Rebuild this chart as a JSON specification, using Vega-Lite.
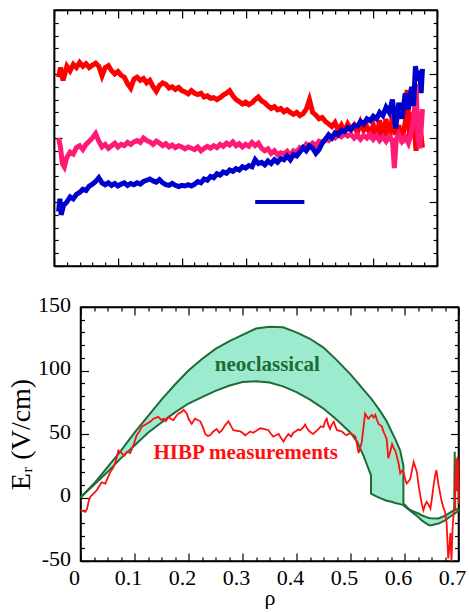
{
  "$schema": "https://vega.github.io/schema/vega-lite/v6.json",
  "padding": {"left": 6, "top": 8, "right": 0, "bottom": 0},
  "background": "white",
  "spacing": 24,
  "center": true,
  "config": {
    "view": {"stroke": "black", "strokeWidth": 1.5},
    "font": "Liberation Serif",
    "axis": {"domainColor": "black", "domainWidth": 1.5, "tickColor": "black", "tickWidth": 1.2, "grid": false, "labelColor": "black", "titleColor": "black", "labelFont": "Liberation Serif", "titleFont": "Liberation Serif", "titleFontWeight": "normal"}
  },
  "datasets": {
    "red": [
      {"x":0.07,"y":2.95},{"x":0.1,"y":3.1},{"x":0.14,"y":2.9},{"x":0.2,"y":3.12},{"x":0.25,"y":3.05},{"x":0.3,"y":3.15},{"x":0.35,"y":3.1},{"x":0.4,"y":3.18},{"x":0.45,"y":3.12},{"x":0.5,"y":3.16},{"x":0.55,"y":3.1},{"x":0.6,"y":3.14},{"x":0.65,"y":3.17},{"x":0.7,"y":3.12},{"x":0.75,"y":2.97},{"x":0.8,"y":3.1},{"x":0.85,"y":3.13},{"x":0.9,"y":3.05},{"x":0.95,"y":3.0},{"x":1.0,"y":3.04},{"x":1.05,"y":2.98},{"x":1.1,"y":2.95},{"x":1.15,"y":2.85},{"x":1.2,"y":2.78},{"x":1.25,"y":2.92},{"x":1.3,"y":2.95},{"x":1.35,"y":2.9},{"x":1.4,"y":2.93},{"x":1.45,"y":2.86},{"x":1.5,"y":2.9},{"x":1.55,"y":2.8},{"x":1.6,"y":2.73},{"x":1.65,"y":2.82},{"x":1.7,"y":2.86},{"x":1.75,"y":2.84},{"x":1.8,"y":2.78},{"x":1.85,"y":2.8},{"x":1.9,"y":2.76},{"x":1.95,"y":2.79},{"x":2.0,"y":2.74},{"x":2.05,"y":2.72},{"x":2.1,"y":2.69},{"x":2.15,"y":2.74},{"x":2.2,"y":2.7},{"x":2.25,"y":2.68},{"x":2.3,"y":2.7},{"x":2.35,"y":2.64},{"x":2.4,"y":2.66},{"x":2.45,"y":2.62},{"x":2.5,"y":2.63},{"x":2.55,"y":2.6},{"x":2.6,"y":2.63},{"x":2.65,"y":2.67},{"x":2.7,"y":2.7},{"x":2.75,"y":2.74},{"x":2.8,"y":2.66},{"x":2.85,"y":2.6},{"x":2.9,"y":2.57},{"x":2.95,"y":2.53},{"x":3.0,"y":2.56},{"x":3.05,"y":2.52},{"x":3.1,"y":2.55},{"x":3.15,"y":2.6},{"x":3.2,"y":2.64},{"x":3.25,"y":2.58},{"x":3.3,"y":2.55},{"x":3.35,"y":2.5},{"x":3.4,"y":2.46},{"x":3.45,"y":2.49},{"x":3.5,"y":2.44},{"x":3.55,"y":2.46},{"x":3.6,"y":2.41},{"x":3.65,"y":2.44},{"x":3.7,"y":2.4},{"x":3.75,"y":2.37},{"x":3.8,"y":2.4},{"x":3.85,"y":2.35},{"x":3.9,"y":2.38},{"x":3.95,"y":2.45},{"x":4.0,"y":2.6},{"x":4.05,"y":2.4},{"x":4.1,"y":2.36},{"x":4.15,"y":2.3},{"x":4.2,"y":2.32},{"x":4.25,"y":2.26},{"x":4.3,"y":2.22},{"x":4.35,"y":2.18},{"x":4.4,"y":2.24},{"x":4.45,"y":2.12},{"x":4.5,"y":2.2},{"x":4.55,"y":2.1},{"x":4.6,"y":2.22},{"x":4.65,"y":2.14},{"x":4.7,"y":2.2},{"x":4.75,"y":2.08},{"x":4.8,"y":2.24},{"x":4.85,"y":2.12},{"x":4.9,"y":2.18},{"x":4.95,"y":2.06},{"x":5.0,"y":2.2},{"x":5.05,"y":2.0},{"x":5.1,"y":2.28},{"x":5.15,"y":1.98},{"x":5.2,"y":2.3},{"x":5.25,"y":1.95},{"x":5.3,"y":2.35},{"x":5.35,"y":2.05},{"x":5.4,"y":2.2},{"x":5.45,"y":1.92},{"x":5.5,"y":2.25},{"x":5.53,"y":2.75},{"x":5.57,"y":2.0},{"x":5.62,"y":2.4},{"x":5.67,"y":1.8},{"x":5.72,"y":2.3},{"x":5.77,"y":1.85}
    ],
    "pink": [
      {"x":0.07,"y":2.0},{"x":0.1,"y":1.85},{"x":0.13,"y":1.6},{"x":0.16,"y":1.55},{"x":0.2,"y":1.7},{"x":0.25,"y":1.78},{"x":0.3,"y":1.75},{"x":0.35,"y":1.85},{"x":0.4,"y":1.88},{"x":0.45,"y":1.82},{"x":0.5,"y":1.9},{"x":0.55,"y":1.95},{"x":0.6,"y":2.0},{"x":0.65,"y":2.07},{"x":0.7,"y":1.95},{"x":0.75,"y":1.86},{"x":0.8,"y":1.9},{"x":0.85,"y":1.84},{"x":0.9,"y":1.88},{"x":0.95,"y":1.92},{"x":1.0,"y":1.86},{"x":1.05,"y":1.9},{"x":1.1,"y":1.88},{"x":1.15,"y":1.93},{"x":1.2,"y":1.9},{"x":1.25,"y":1.94},{"x":1.3,"y":1.96},{"x":1.35,"y":1.93},{"x":1.4,"y":2.0},{"x":1.45,"y":1.96},{"x":1.5,"y":1.94},{"x":1.55,"y":1.9},{"x":1.6,"y":1.95},{"x":1.65,"y":1.92},{"x":1.7,"y":1.88},{"x":1.75,"y":1.91},{"x":1.8,"y":1.86},{"x":1.85,"y":1.89},{"x":1.9,"y":1.85},{"x":1.95,"y":1.88},{"x":2.0,"y":1.86},{"x":2.05,"y":1.83},{"x":2.1,"y":1.86},{"x":2.15,"y":1.84},{"x":2.2,"y":1.82},{"x":2.25,"y":1.86},{"x":2.3,"y":1.8},{"x":2.35,"y":1.84},{"x":2.4,"y":1.87},{"x":2.45,"y":1.84},{"x":2.5,"y":1.88},{"x":2.55,"y":1.85},{"x":2.6,"y":1.9},{"x":2.65,"y":1.87},{"x":2.7,"y":1.92},{"x":2.75,"y":1.89},{"x":2.8,"y":1.94},{"x":2.85,"y":1.88},{"x":2.9,"y":1.91},{"x":2.95,"y":1.86},{"x":3.0,"y":1.9},{"x":3.05,"y":1.87},{"x":3.1,"y":1.93},{"x":3.15,"y":1.88},{"x":3.2,"y":1.92},{"x":3.25,"y":1.84},{"x":3.3,"y":1.8},{"x":3.35,"y":1.83},{"x":3.4,"y":1.76},{"x":3.45,"y":1.8},{"x":3.5,"y":1.74},{"x":3.55,"y":1.77},{"x":3.6,"y":1.75},{"x":3.65,"y":1.79},{"x":3.7,"y":1.72},{"x":3.75,"y":1.8},{"x":3.8,"y":1.78},{"x":3.85,"y":1.85},{"x":3.9,"y":1.83},{"x":3.95,"y":1.9},{"x":4.0,"y":1.86},{"x":4.05,"y":1.92},{"x":4.1,"y":1.88},{"x":4.15,"y":1.95},{"x":4.2,"y":1.93},{"x":4.25,"y":1.98},{"x":4.3,"y":1.96},{"x":4.35,"y":2.02},{"x":4.4,"y":2.0},{"x":4.45,"y":2.05},{"x":4.5,"y":2.02},{"x":4.55,"y":2.07},{"x":4.6,"y":2.03},{"x":4.65,"y":2.06},{"x":4.7,"y":2.0},{"x":4.75,"y":2.05},{"x":4.8,"y":1.98},{"x":4.85,"y":2.04},{"x":4.9,"y":2.0},{"x":4.95,"y":2.06},{"x":5.0,"y":1.98},{"x":5.05,"y":2.04},{"x":5.1,"y":1.96},{"x":5.15,"y":2.02},{"x":5.2,"y":1.95},{"x":5.25,"y":2.03},{"x":5.3,"y":1.96},{"x":5.33,"y":1.53},{"x":5.36,"y":1.98},{"x":5.4,"y":2.06},{"x":5.45,"y":1.95},{"x":5.5,"y":2.02},{"x":5.55,"y":1.92},{"x":5.6,"y":2.1},{"x":5.65,"y":2.5},{"x":5.67,"y":2.84},{"x":5.7,"y":2.0},{"x":5.73,"y":1.84},{"x":5.77,"y":2.45}
    ],
    "blue": [
      {"x":0.07,"y":0.85},{"x":0.09,"y":1.05},{"x":0.11,"y":0.8},{"x":0.15,"y":0.95},{"x":0.2,"y":1.0},{"x":0.25,"y":1.08},{"x":0.3,"y":1.05},{"x":0.35,"y":1.12},{"x":0.4,"y":1.15},{"x":0.45,"y":1.2},{"x":0.5,"y":1.18},{"x":0.55,"y":1.25},{"x":0.6,"y":1.28},{"x":0.65,"y":1.32},{"x":0.7,"y":1.38},{"x":0.75,"y":1.3},{"x":0.8,"y":1.27},{"x":0.85,"y":1.3},{"x":0.9,"y":1.26},{"x":0.95,"y":1.29},{"x":1.0,"y":1.25},{"x":1.05,"y":1.28},{"x":1.1,"y":1.3},{"x":1.15,"y":1.26},{"x":1.2,"y":1.29},{"x":1.25,"y":1.27},{"x":1.3,"y":1.3},{"x":1.35,"y":1.28},{"x":1.4,"y":1.32},{"x":1.45,"y":1.34},{"x":1.5,"y":1.36},{"x":1.55,"y":1.33},{"x":1.6,"y":1.31},{"x":1.65,"y":1.35},{"x":1.7,"y":1.3},{"x":1.75,"y":1.27},{"x":1.8,"y":1.26},{"x":1.85,"y":1.29},{"x":1.9,"y":1.26},{"x":1.95,"y":1.24},{"x":2.0,"y":1.26},{"x":2.05,"y":1.25},{"x":2.1,"y":1.27},{"x":2.15,"y":1.25},{"x":2.2,"y":1.28},{"x":2.25,"y":1.32},{"x":2.3,"y":1.3},{"x":2.35,"y":1.36},{"x":2.4,"y":1.34},{"x":2.45,"y":1.4},{"x":2.5,"y":1.38},{"x":2.55,"y":1.44},{"x":2.6,"y":1.42},{"x":2.65,"y":1.47},{"x":2.7,"y":1.45},{"x":2.75,"y":1.5},{"x":2.8,"y":1.48},{"x":2.85,"y":1.52},{"x":2.9,"y":1.5},{"x":2.95,"y":1.55},{"x":3.0,"y":1.53},{"x":3.05,"y":1.57},{"x":3.1,"y":1.55},{"x":3.15,"y":1.66},{"x":3.2,"y":1.6},{"x":3.25,"y":1.62},{"x":3.3,"y":1.58},{"x":3.35,"y":1.64},{"x":3.4,"y":1.6},{"x":3.45,"y":1.66},{"x":3.5,"y":1.62},{"x":3.55,"y":1.68},{"x":3.6,"y":1.66},{"x":3.65,"y":1.72},{"x":3.7,"y":1.66},{"x":3.75,"y":1.74},{"x":3.8,"y":1.72},{"x":3.85,"y":1.78},{"x":3.9,"y":1.85},{"x":3.95,"y":1.8},{"x":4.0,"y":1.88},{"x":4.05,"y":1.84},{"x":4.1,"y":1.76},{"x":4.15,"y":1.82},{"x":4.2,"y":1.92},{"x":4.25,"y":1.98},{"x":4.3,"y":2.05},{"x":4.35,"y":2.0},{"x":4.4,"y":2.08},{"x":4.45,"y":2.05},{"x":4.5,"y":2.12},{"x":4.55,"y":2.1},{"x":4.6,"y":2.16},{"x":4.65,"y":2.13},{"x":4.7,"y":2.2},{"x":4.75,"y":2.18},{"x":4.8,"y":2.26},{"x":4.85,"y":2.22},{"x":4.9,"y":2.3},{"x":4.95,"y":2.27},{"x":5.0,"y":2.34},{"x":5.05,"y":2.3},{"x":5.1,"y":2.4},{"x":5.15,"y":2.35},{"x":5.2,"y":2.48},{"x":5.25,"y":2.4},{"x":5.3,"y":2.6},{"x":5.35,"y":2.15},{"x":5.4,"y":2.55},{"x":5.45,"y":2.3},{"x":5.5,"y":2.7},{"x":5.55,"y":2.45},{"x":5.6,"y":2.8},{"x":5.63,"y":2.5},{"x":5.66,"y":3.12},{"x":5.7,"y":2.9},{"x":5.73,"y":3.05},{"x":5.75,"y":2.7},{"x":5.77,"y":3.08}
    ],
    "bar": [{"x":3.15,"x2":3.92,"y":1.0}],
    "band": [
      {"rho":0,"hi":0,"lo":0},{"rho":0.025,"hi":11,"lo":10},{"rho":0.05,"hi":24,"lo":20},{"rho":0.075,"hi":37,"lo":31},{"rho":0.1,"hi":51,"lo":41},{"rho":0.125,"hi":64,"lo":51},{"rho":0.15,"hi":77,"lo":59},{"rho":0.175,"hi":89,"lo":67},{"rho":0.2,"hi":100,"lo":74},{"rho":0.225,"hi":109,"lo":79},{"rho":0.25,"hi":117,"lo":84},{"rho":0.275,"hi":123,"lo":88},{"rho":0.3,"hi":128,"lo":91},{"rho":0.325,"hi":133,"lo":91.5},{"rho":0.35,"hi":134.5,"lo":90.5},{"rho":0.375,"hi":134,"lo":87.5},{"rho":0.4,"hi":130,"lo":83},{"rho":0.425,"hi":125,"lo":77},{"rho":0.45,"hi":118,"lo":70},{"rho":0.475,"hi":108,"lo":61},{"rho":0.5,"hi":97,"lo":51},{"rho":0.512,"hi":91,"lo":44},{"rho":0.524,"hi":85,"lo":33},{"rho":0.532,"hi":81,"lo":24},{"rho":0.538,"hi":78,"lo":17.5},{"rho":0.538,"hi":78,"lo":3},{"rho":0.545,"hi":74,"lo":1.5},{"rho":0.555,"hi":68,"lo":-0.5},{"rho":0.567,"hi":60,"lo":-2.5},{"rho":0.576,"hi":52,"lo":-3.4},{"rho":0.583,"hi":46,"lo":-4.3},{"rho":0.592,"hi":37,"lo":-5.2},{"rho":0.598,"hi":25,"lo":-6},{"rho":0.598,"hi":-4.7,"lo":-6},{"rho":0.607,"hi":-8.7,"lo":-9.3},{"rho":0.614,"hi":-10.5,"lo":-11.5},{"rho":0.626,"hi":-12.6,"lo":-15.5},{"rho":0.632,"hi":-14,"lo":-18},{"rho":0.644,"hi":-16,"lo":-21.5},{"rho":0.648,"hi":-16.3,"lo":-22},{"rho":0.663,"hi":-16.5,"lo":-20.5},{"rho":0.675,"hi":-14.4,"lo":-18},{"rho":0.688,"hi":-11,"lo":-14},{"rho":0.692,"hi":-10,"lo":-13},{"rho":0.693,"hi":36,"lo":-12.7},{"rho":0.694,"hi":-9.7,"lo":-12.4},{"rho":0.7,"hi":-9,"lo":-10.5}
    ],
    "hibp": [
      {"rho":0,"er":-10},{"rho":0.005,"er":-10.5},{"rho":0.009,"er":-11.3},{"rho":0.012,"er":-9},{"rho":0.015,"er":-3.4},{"rho":0.018,"er":0.5},{"rho":0.024,"er":3},{"rho":0.03,"er":5.7},{"rho":0.035,"er":9},{"rho":0.039,"er":12},{"rho":0.046,"er":11},{"rho":0.05,"er":15},{"rho":0.055,"er":20},{"rho":0.06,"er":23},{"rho":0.064,"er":27},{"rho":0.067,"er":31},{"rho":0.07,"er":37},{"rho":0.076,"er":35},{"rho":0.081,"er":33},{"rho":0.086,"er":36},{"rho":0.092,"er":35},{"rho":0.098,"er":41},{"rho":0.104,"er":49},{"rho":0.109,"er":52},{"rho":0.114,"er":56},{"rho":0.123,"er":58},{"rho":0.13,"er":60},{"rho":0.135,"er":62},{"rho":0.144,"er":63.5},{"rho":0.15,"er":61},{"rho":0.154,"er":62},{"rho":0.158,"er":60},{"rho":0.163,"er":63.5},{"rho":0.167,"er":62},{"rho":0.172,"er":61},{"rho":0.177,"er":64},{"rho":0.181,"er":66},{"rho":0.186,"er":67},{"rho":0.191,"er":69},{"rho":0.197,"er":66},{"rho":0.2,"er":62},{"rho":0.206,"er":58},{"rho":0.212,"er":62},{"rho":0.217,"er":61},{"rho":0.222,"er":60},{"rho":0.227,"er":55},{"rho":0.231,"er":50},{"rho":0.236,"er":48.5},{"rho":0.24,"er":49},{"rho":0.246,"er":52},{"rho":0.252,"er":54},{"rho":0.257,"er":51},{"rho":0.262,"er":53},{"rho":0.268,"er":57},{"rho":0.274,"er":60},{"rho":0.279,"er":56},{"rho":0.283,"er":53},{"rho":0.29,"er":52.5},{"rho":0.296,"er":52},{"rho":0.3,"er":51},{"rho":0.305,"er":49},{"rho":0.31,"er":50.5},{"rho":0.314,"er":52},{"rho":0.32,"er":51},{"rho":0.327,"er":53},{"rho":0.333,"er":54.5},{"rho":0.339,"er":54},{"rho":0.344,"er":53.5},{"rho":0.348,"er":53},{"rho":0.353,"er":50},{"rho":0.357,"er":48},{"rho":0.362,"er":49},{"rho":0.367,"er":50},{"rho":0.371,"er":47},{"rho":0.376,"er":44},{"rho":0.38,"er":47},{"rho":0.385,"er":50},{"rho":0.39,"er":48},{"rho":0.394,"er":51},{"rho":0.398,"er":52},{"rho":0.403,"er":53.5},{"rho":0.407,"er":53},{"rho":0.412,"er":55},{"rho":0.416,"er":57.5},{"rho":0.419,"er":55},{"rho":0.422,"er":53},{"rho":0.427,"er":51},{"rho":0.431,"er":50},{"rho":0.436,"er":52},{"rho":0.441,"er":54},{"rho":0.445,"er":56},{"rho":0.45,"er":55.6},{"rho":0.453,"er":60},{"rho":0.456,"er":62},{"rho":0.459,"er":57},{"rho":0.462,"er":54},{"rho":0.465,"er":57},{"rho":0.469,"er":59.6},{"rho":0.472,"er":56},{"rho":0.475,"er":53},{"rho":0.48,"er":52.5},{"rho":0.484,"er":52},{"rho":0.489,"er":50},{"rho":0.493,"er":49},{"rho":0.498,"er":50.5},{"rho":0.502,"er":50},{"rho":0.506,"er":49},{"rho":0.509,"er":48},{"rho":0.512,"er":42},{"rho":0.515,"er":35},{"rho":0.518,"er":39},{"rho":0.521,"er":44},{"rho":0.524,"er":55},{"rho":0.527,"er":66},{"rho":0.53,"er":64},{"rho":0.533,"er":62},{"rho":0.537,"er":64},{"rho":0.54,"er":65},{"rho":0.543,"er":63},{"rho":0.546,"er":65},{"rho":0.549,"er":61},{"rho":0.552,"er":58},{"rho":0.555,"er":57},{"rho":0.558,"er":56},{"rho":0.561,"er":52},{"rho":0.564,"er":49},{"rho":0.567,"er":46},{"rho":0.57,"er":31},{"rho":0.573,"er":35},{"rho":0.577,"er":42},{"rho":0.58,"er":39},{"rho":0.583,"er":37},{"rho":0.586,"er":32},{"rho":0.589,"er":27},{"rho":0.592,"er":19},{"rho":0.595,"er":21},{"rho":0.598,"er":20},{"rho":0.601,"er":15},{"rho":0.604,"er":11},{"rho":0.608,"er":13},{"rho":0.611,"er":15},{"rho":0.614,"er":22},{"rho":0.617,"er":28},{"rho":0.62,"er":24},{"rho":0.623,"er":20},{"rho":0.626,"er":10},{"rho":0.629,"er":2},{"rho":0.632,"er":-5},{"rho":0.635,"er":-10},{"rho":0.638,"er":-6},{"rho":0.641,"er":-3.4},{"rho":0.645,"er":-6},{"rho":0.648,"er":-8.7},{"rho":0.651,"er":0},{"rho":0.654,"er":10},{"rho":0.657,"er":18},{"rho":0.659,"er":21.5},{"rho":0.661,"er":16},{"rho":0.663,"er":10},{"rho":0.666,"er":3},{"rho":0.669,"er":-3.4},{"rho":0.672,"er":-8},{"rho":0.675,"er":-11},{"rho":0.678,"er":-20},{"rho":0.681,"er":-48},{"rho":0.683,"er":-40},{"rho":0.685,"er":-28},{"rho":0.687,"er":-50},{"rho":0.689,"er":-25},{"rho":0.691,"er":-12},{"rho":0.693,"er":-8},{"rho":0.695,"er":20},{"rho":0.696,"er":30},{"rho":0.697,"er":5},{"rho":0.698,"er":32},{"rho":0.699,"er":28},{"rho":0.7,"er":-5}
    ],
    "neo": [{"rho":0.346,"er":104,"label":"neoclassical"}],
    "meas": [{"rho":0.306,"er":35,"label":"HIBP measurements"}]
  },
  "vconcat": [
    {
      "width": 383,
      "height": 256,
      "resolve": {"axis": {"x": "independent", "y": "independent"}},
      "layer": [
        {
          "data": {"name": "red"},
          "mark": {"type": "line", "color": "#FF0000", "strokeWidth": 5},
          "encoding": {
            "x": {"field": "x", "type": "quantitative", "scale": {"domain": [0, 6], "nice": false},
              "axis": {"orient": "bottom", "title": null, "labels": false, "values": [0,0.2,0.4,0.6,0.8,1,1.2,1.4,1.6,1.8,2,2.2,2.4,2.6,2.8,3,3.2,3.4,3.6,3.8,4,4.2,4.4,4.6,4.8,5,5.2,5.4,5.6,5.8,6],
                "tickSize": {"condition": {"test": "abs(datum.value-round(datum.value))<0.001", "value": -8}, "value": -4}}},
            "y": {"field": "y", "type": "quantitative", "scale": {"domain": [0, 4], "nice": false},
              "axis": {"orient": "left", "title": null, "labels": false, "values": [0,0.2,0.4,0.6,0.8,1,1.2,1.4,1.6,1.8,2,2.2,2.4,2.6,2.8,3,3.2,3.4,3.6,3.8,4],
                "tickSize": {"condition": {"test": "abs(datum.value-round(datum.value))<0.001", "value": -8}, "value": -4}}}
          }
        },
        {
          "data": {"name": "pink"},
          "mark": {"type": "line", "color": "#FF1A75", "strokeWidth": 5},
          "encoding": {
            "x": {"field": "x", "type": "quantitative",
              "axis": {"orient": "top", "title": null, "labels": false, "values": [0,0.2,0.4,0.6,0.8,1,1.2,1.4,1.6,1.8,2,2.2,2.4,2.6,2.8,3,3.2,3.4,3.6,3.8,4,4.2,4.4,4.6,4.8,5,5.2,5.4,5.6,5.8,6],
                "tickSize": {"condition": {"test": "abs(datum.value-round(datum.value))<0.001", "value": -8}, "value": -4}}},
            "y": {"field": "y", "type": "quantitative",
              "axis": {"orient": "right", "title": null, "labels": false, "values": [0,0.2,0.4,0.6,0.8,1,1.2,1.4,1.6,1.8,2,2.2,2.4,2.6,2.8,3,3.2,3.4,3.6,3.8,4],
                "tickSize": {"condition": {"test": "abs(datum.value-round(datum.value))<0.001", "value": -8}, "value": -4}}}
          }
        },
        {
          "data": {"name": "blue"},
          "mark": {"type": "line", "color": "#0000CC", "strokeWidth": 5},
          "encoding": {
            "x": {"field": "x", "type": "quantitative", "axis": null},
            "y": {"field": "y", "type": "quantitative",
              "axis": {"orient": "right", "offset": 55, "title": null, "labels": false, "ticks": false, "domainColor": "white"}}
          }
        },
        {
          "data": {"name": "bar"},
          "mark": {"type": "rule", "color": "#0000CC", "strokeWidth": 4},
          "encoding": {
            "x": {"field": "x", "type": "quantitative", "axis": null},
            "x2": {"field": "x2"},
            "y": {"field": "y", "type": "quantitative", "axis": null}
          }
        }
      ]
    },
    {
      "width": 378,
      "height": 254,
      "resolve": {"axis": {"x": "independent", "y": "independent"}},
      "layer": [
        {
          "data": {"name": "band"},
          "mark": {"type": "area", "color": "#9DEBCE", "opacity": 1},
          "encoding": {
            "x": {"field": "rho", "type": "quantitative", "scale": {"domain": [0, 0.7], "nice": false},
              "axis": {"orient": "bottom", "title": "ρ", "titleFont": "Liberation Serif", "titleFontSize": 22, "titlePadding": -5, "labelFont": "Liberation Serif", "labelFontSize": 22, "labelPadding": 14, "labelOffset": -6.5, "labelOverlap": false, "labelFlush": false,
                "values": [0,0.025,0.05,0.075,0.1,0.125,0.15,0.175,0.2,0.225,0.25,0.275,0.3,0.325,0.35,0.375,0.4,0.425,0.45,0.475,0.5,0.525,0.55,0.575,0.6,0.625,0.65,0.675,0.7],
                "labelExpr": "abs(datum.value*10-round(datum.value*10))<0.001 ? (datum.value==0 ? '0' : format(datum.value,'.1f')) : ''",
                "tickSize": {"condition": {"test": "abs(datum.value*10-round(datum.value*10))<0.001", "value": -8}, "value": -4}}},
            "y": {"field": "hi", "type": "quantitative", "scale": {"domain": [-50, 150], "nice": false},
              "axis": {"orient": "left", "title": "Eᵣ (V/cm)", "titleFont": "Liberation Serif", "titleFontSize": 28, "titlePadding": 2, "labelFont": "Liberation Serif", "labelFontSize": 22, "labelPadding": 18, "labelOffset": -3, "labelOverlap": false, "labelFlush": false,
                "values": [-50,-40,-30,-20,-10,0,10,20,30,40,50,60,70,80,90,100,110,120,130,140,150],
                "labelExpr": "datum.value % 50 == 0 ? ('' + datum.value) : ''",
                "tickSize": {"condition": {"test": "datum.value % 50 == 0", "value": -8}, "value": -4}}},
            "y2": {"field": "lo"}
          }
        },
        {
          "data": {"name": "band"},
          "mark": {"type": "line", "color": "#1F6B36", "strokeWidth": 2},
          "encoding": {
            "x": {"field": "rho", "type": "quantitative",
              "axis": {"orient": "top", "title": null, "labels": false,
                "values": [0,0.025,0.05,0.075,0.1,0.125,0.15,0.175,0.2,0.225,0.25,0.275,0.3,0.325,0.35,0.375,0.4,0.425,0.45,0.475,0.5,0.525,0.55,0.575,0.6,0.625,0.65,0.675,0.7],
                "tickSize": {"condition": {"test": "abs(datum.value*10-round(datum.value*10))<0.001", "value": -8}, "value": -4}}},
            "y": {"field": "hi", "type": "quantitative",
              "axis": {"orient": "right", "title": null, "labels": false,
                "values": [-50,-40,-30,-20,-10,0,10,20,30,40,50,60,70,80,90,100,110,120,130,140,150],
                "tickSize": {"condition": {"test": "datum.value % 50 == 0", "value": -8}, "value": -4}}}
          }
        },
        {
          "data": {"name": "band"},
          "mark": {"type": "line", "color": "#1F6B36", "strokeWidth": 2},
          "encoding": {
            "x": {"field": "rho", "type": "quantitative", "axis": null},
            "y": {"field": "lo", "type": "quantitative", "axis": null}
          }
        },
        {
          "mark": {"type": "rule", "color": "black", "strokeWidth": 1},
          "encoding": {"y": {"datum": 0, "type": "quantitative", "axis": null}}
        },
        {
          "data": {"name": "hibp"},
          "mark": {"type": "line", "color": "#FF1010", "strokeWidth": 1.8},
          "encoding": {
            "x": {"field": "rho", "type": "quantitative", "axis": null},
            "y": {"field": "er", "type": "quantitative", "axis": null}
          }
        },
        {
          "data": {"name": "neo"},
          "mark": {"type": "text", "font": "Liberation Serif", "fontSize": 21, "fontWeight": "bold", "color": "#1E6B38"},
          "encoding": {
            "x": {"field": "rho", "type": "quantitative", "axis": null},
            "y": {"field": "er", "type": "quantitative", "axis": null},
            "text": {"field": "label"}
          }
        },
        {
          "data": {"name": "meas"},
          "mark": {"type": "text", "font": "Liberation Serif", "fontSize": 21, "fontWeight": "bold", "color": "#FF1010"},
          "encoding": {
            "x": {"field": "rho", "type": "quantitative", "axis": null},
            "y": {"field": "er", "type": "quantitative", "axis": null},
            "text": {"field": "label"}
          }
        }
      ]
    }
  ]
}
